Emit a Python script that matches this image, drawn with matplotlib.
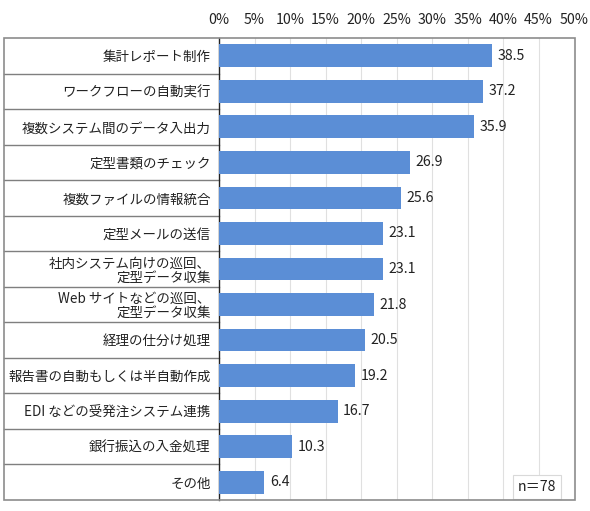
import matplotlib
matplotlib.use("Agg")
import matplotlib.pyplot as plt
from matplotlib.patches import Rectangle
from matplotlib.lines import Line2D

plt.rcParams['font.family'] = ['Noto Sans CJK JP', 'DejaVu Sans']

categories = [
    "集計レポート制作",
    "ワークフローの自動実行",
    "複数システム間のデータ入出力",
    "定型書類のチェック",
    "複数ファイルの情報統合",
    "定型メールの送信",
    "社内システム向けの巡回、\n定型データ収集",
    "Web サイトなどの巡回、\n定型データ収集",
    "経理の仕分け処理",
    "報告書の自動もしくは半自動作成",
    "EDI などの受発注システム連携",
    "銀行振込の入金処理",
    "その他",
]
values = [38.5, 37.2, 35.9, 26.9, 25.6, 23.1, 23.1, 21.8, 20.5, 19.2, 16.7, 10.3, 6.4]
xticks = [0, 5, 10, 15, 20, 25, 30, 35, 40, 45, 50]
xtick_labels = [f"{t}%" for t in xticks]
note = "n＝78"

W, H = 590, 511
fig = plt.figure(figsize=(W / 100, H / 100), dpi=100)
x0, x1, y0, y1 = 219, 574, 38, 500
ax = fig.add_axes([x0 / W, 1 - y1 / H, (x1 - x0) / W, (y1 - y0) / H])

n = len(categories)
ypos = list(range(n))
ax.barh(ypos, values, height=0.64, color='#5B8ED6', zorder=3)
ax.set_ylim(n - 0.5, -0.5)
ax.set_xlim(0, 50)

for y, v in zip(ypos, values):
    ax.text(v + 0.8, y, f"{v}", va='center', ha='left', fontsize=10.2, color='#222222', zorder=4)

ax.xaxis.tick_top()
ax.set_xticks(xticks)
ax.set_xticklabels(xtick_labels, fontsize=10.2, color='#222222')
ax.tick_params(axis='x', length=0, pad=8)
ax.grid(axis='x', color='#e0e0e0', linewidth=0.8, zorder=0)

ax.set_yticks(ypos)
ax.set_yticklabels(categories, fontsize=9.7, color='#222222', linespacing=1.0)
ax.tick_params(axis='y', length=0, pad=6)

for s in ['top', 'right', 'bottom']:
    ax.spines[s].set_visible(False)
ax.spines['left'].set_color('#222222')
ax.spines['left'].set_linewidth(1.0)

# label column separator lines
lx = -(x0 - 4) / (x1 - x0)
tr = ax.get_yaxis_transform()
for k in range(1, n):
    ax.add_line(Line2D([lx, 0], [k - 0.5, k - 0.5], transform=tr, color='#7f7f7f',
                       linewidth=1.0, clip_on=False))

# outer border
fig.add_artist(Rectangle((4 / W, 1 - y1 / H), (575 - 4) / W, (y1 - y0) / H,
                         transform=fig.transFigure, fill=False, edgecolor='#8c8c8c',
                         linewidth=1.2))

# n note box
ax.text(0.95, 0.012, note, transform=ax.transAxes, ha='right', va='bottom', fontsize=10.2,
        color='#222222', zorder=5,
        bbox=dict(boxstyle='square,pad=0.35', facecolor='white', edgecolor='#d9d9d9', linewidth=0.8))

fig.savefig("out.png", dpi=100, facecolor='white')
